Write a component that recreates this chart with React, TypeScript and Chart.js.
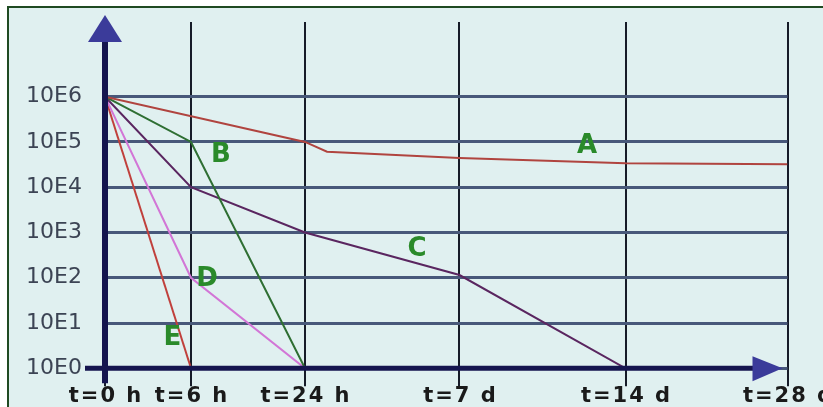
import React, { useEffect, useRef } from "react";
import { Chart, registerables } from "chart.js";

Chart.register(...registerables);

// X axis: tick labels and their positions on the (non-uniform) time axis
const xTickLabels = ["t=0 h", "t=6 h", "t=24 h", "t=7 d", "t=14 d", "t=28 d"];
const xTickValues = [0, 0.86, 2.0, 3.545, 5.205, 6.825];
// Y axis (log): decades
const yTickValues = [1, 10, 100, 1e3, 1e4, 1e5, 1e6];

// Series
const seriesAx = [0, 2.0, 2.22, 3.545, 5.205, 6.825];
const seriesAy = [1e6, 1.0e5, 6.1e4, 4.4e4, 3.4e4, 3.2e4];
const seriesBx = [0, 0.86, 2.0];
const seriesBy = [1e6, 1e5, 1];
const seriesCx = [0, 0.86, 2.0, 3.545, 5.205];
const seriesCy = [1e6, 1e4, 1e3, 115, 1];
const seriesDx = [0, 0.86, 2.0];
const seriesDy = [1e6, 100, 1];
const seriesEx = [0, 0.86];
const seriesEy = [1e6, 1];

// Curve labels
const curveNames = ["A", "B", "C", "D", "E"];
const curveLabelX = [4.82, 1.16, 3.12, 1.02, 0.675];
const curveLabelY = [8.1e4, 5.2e4, 433, 94, 4.7];

const toPts = (xs: number[], ys: number[]) => xs.map((x, i) => ({ x, y: ys[i] }));

export default function App() {
  const ref = useRef<HTMLCanvasElement | null>(null);

  useEffect(() => {
    if (!ref.current) return;
    const decor = {
      id: "decor",
      beforeDraw(chart: any) {
        const ctx = chart.ctx;
        ctx.save();
        ctx.fillStyle = "#ffffff";
        ctx.fillRect(0, 0, chart.width, chart.height);
        ctx.fillStyle = "#e0f0f0";
        ctx.fillRect(8, 7, chart.width - 8, chart.height - 7);
        ctx.strokeStyle = "#1f4a22";
        ctx.lineWidth = 2;
        ctx.beginPath();
        ctx.moveTo(8, chart.height);
        ctx.lineTo(8, 7);
        ctx.lineTo(chart.width, 7);
        ctx.stroke();
        ctx.restore();
      },
      afterDatasetsDraw(chart: any) {
        const ctx = chart.ctx;
        const area = chart.chartArea;
        const xs = chart.scales.x;
        const ys = chart.scales.y;
        const x0 = xs.getPixelForValue(0);
        const y0 = ys.getPixelForValue(1);
        ctx.save();
        // y axis
        ctx.strokeStyle = "#15154f";
        ctx.lineWidth = 6;
        ctx.beginPath();
        ctx.moveTo(x0, area.top + 16);
        ctx.lineTo(x0, y0 + 15);
        ctx.stroke();
        ctx.fillStyle = "#3b3b9a";
        ctx.beginPath();
        ctx.moveTo(x0, area.top - 7);
        ctx.lineTo(x0 - 17, area.top + 20);
        ctx.lineTo(x0 + 17, area.top + 20);
        ctx.closePath();
        ctx.fill();
        // x axis
        ctx.lineWidth = 5;
        ctx.beginPath();
        ctx.moveTo(x0 - 20, y0);
        ctx.lineTo(area.right - 32, y0);
        ctx.stroke();
        ctx.beginPath();
        ctx.moveTo(area.right - 35, y0 - 12);
        ctx.lineTo(area.right - 5, y0);
        ctx.lineTo(area.right - 35, y0 + 13);
        ctx.closePath();
        ctx.fill();
        // curve labels
        ctx.fillStyle = "#2a8a2a";
        ctx.font = "bold 26px 'DejaVu Sans'";
        ctx.textAlign = "center";
        ctx.textBaseline = "middle";
        curveNames.forEach((n, i) => {
          ctx.fillText(n, xs.getPixelForValue(curveLabelX[i]), ys.getPixelForValue(curveLabelY[i]));
        });
        // x tick labels
        ctx.fillStyle = "#1a1a1a";
        ctx.font = "bold 21px 'DejaVu Sans'";
        (ctx as any).letterSpacing = "2px";
        ctx.textBaseline = "alphabetic";
        xTickLabels.forEach((l, i) => {
          ctx.fillText(l, xs.getPixelForValue(xTickValues[i]) + 1, chart.height - 5);
        });
        ctx.restore();
      },
    };

    const mk = (label: string, xs: number[], ys: number[], color: string) => ({
      label,
      data: toPts(xs, ys),
      borderColor: color,
      backgroundColor: color,
      borderWidth: 2,
      pointRadius: 0,
      tension: 0,
      fill: false,
    });

    const chart = new Chart(ref.current, {
      type: "line",
      data: {
        datasets: [
          mk("A", seriesAx, seriesAy, "#b0443f"),
          mk("B", seriesBx, seriesBy, "#2f6f33"),
          mk("C", seriesCx, seriesCy, "#5a2660"),
          mk("D", seriesDx, seriesDy, "#d276d6"),
          mk("E", seriesEx, seriesEy, "#c0403c"),
        ],
      },
      options: {
        responsive: false,
        animation: false,
        layout: { padding: { left: 8, top: 22, right: 35.5, bottom: 0 } },
        plugins: { legend: { display: false }, tooltip: { enabled: false } },
        scales: {
          x: {
            type: "linear",
            min: 0,
            max: xTickValues[xTickValues.length - 1],
            afterBuildTicks: (s: any) => {
              s.ticks = xTickValues.map((v) => ({ value: v }));
            },
            afterFit: (s: any) => {
              s.height = 38.7;
              s.paddingLeft = 0;
              s.paddingRight = 0;
            },
            ticks: { display: false },
            grid: { color: "#161b28", lineWidth: 2, drawTicks: true, tickLength: 18 },
            border: { display: false },
          },
          y: {
            type: "logarithmic",
            min: 1,
            max: Math.pow(10, 7.65),
            afterBuildTicks: (s: any) => {
              s.ticks = yTickValues.map((v) => ({ value: v }));
            },
            afterFit: (s: any) => {
              s.width = 97;
              s.paddingTop = 0;
              s.paddingBottom = 0;
            },
            ticks: {
              padding: 23,
              color: "#3c4454",
              font: { family: "'DejaVu Sans'", size: 22 },
              callback: (v: any) => "10E" + Math.round(Math.log10(Number(v))),
            },
            grid: { color: "#48587a", lineWidth: 3, drawTicks: false },
            border: { display: false },
          },
        },
      },
      plugins: [decor],
    } as any);
    return () => chart.destroy();
  }, []);

  return (
    <div style={{ position: "absolute", left: 0, top: 0, width: 823, height: 407 }}>
      <canvas ref={ref} width={823} height={407} style={{ display: "block" }} />
    </div>
  );
}
